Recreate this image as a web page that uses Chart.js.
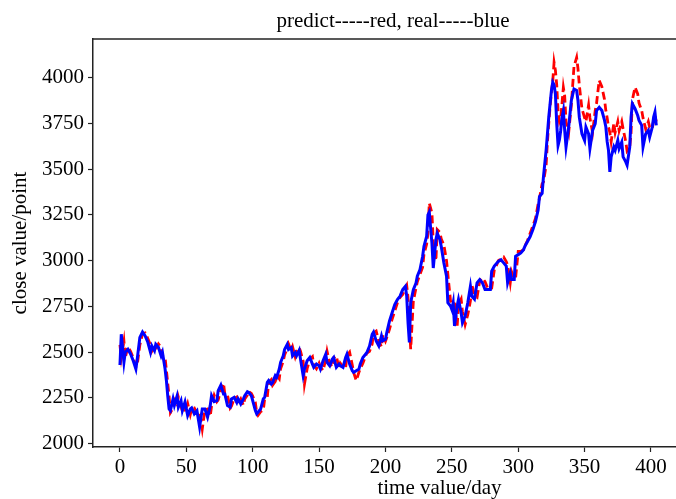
<!DOCTYPE html>
<html>
<head>
<meta charset="utf-8">
<script src="https://cdn.jsdelivr.net/npm/chart.js@4.4.1/dist/chart.umd.min.js"></script>
<style>
  html, body { margin: 0; padding: 0; background: #fff; overflow: hidden; }
  #wrap { width: 786px; height: 499px; }
</style>
</head>
<body>
<div id="wrap"><canvas id="chart" width="786" height="499"></canvas></div>
<script>
// day index of each reading
const days = [
  0, 1, 3, 4, 6, 8, 10, 12, 13, 15, 17, 19, 21, 23, 24, 26, 27, 29, 31, 32,
  34, 35, 36, 37, 38, 40, 41, 43, 44, 46, 47, 49, 51, 53, 54, 56, 58, 60, 62, 64,
  66, 68, 69, 71, 73, 74, 76, 78, 79, 81, 83, 84, 86, 88, 89, 91, 93, 94, 96, 97,
  99, 100, 102, 103, 104, 106, 108, 109, 111, 112, 114, 115, 117, 118, 120, 121, 123, 124, 126, 127,
  129, 130, 132, 133, 135, 136, 138, 139, 141, 143, 145, 146, 148, 150, 151, 153, 155, 156, 158, 160,
  161, 163, 165, 166, 168, 170, 171, 173, 175, 176, 178, 180, 181, 183, 185, 186, 188, 190, 191, 193,
  195, 197, 198, 200, 201, 203, 205, 207, 209, 211, 213, 215, 216, 217, 218, 219, 221, 223, 224, 226,
  228, 229, 231, 232, 233, 235, 236, 238, 239, 241, 242, 244, 246, 247, 249, 250, 251, 252, 254, 255,
  257, 258, 260, 262, 264, 265, 267, 269, 271, 273, 275, 277, 279, 280, 282, 284, 285, 287, 289, 291,
  292, 294, 295, 297, 298, 300, 302, 304, 305, 307, 309, 311, 313, 315, 316, 318, 319, 321, 322, 323,
  324, 325, 326, 327, 328, 329, 330, 331, 332, 333, 334, 335, 336, 338, 340, 342, 344, 345, 346, 348,
  350, 351, 353, 354, 356, 358, 359, 361, 363, 365, 366, 367, 368, 369, 370, 372, 373, 375, 376, 378,
  379, 381, 382, 384, 385, 386, 388, 390, 391, 393, 394, 396, 398, 399, 401, 402, 403, 404
];

// real close value (blue)
const real = [
  2430, 2598, 2445, 2500, 2516, 2490, 2453, 2408, 2462, 2581, 2610, 2589, 2554, 2500, 2535, 2508, 2543, 2527, 2480, 2500,
  2408, 2344, 2262, 2190, 2181, 2245, 2210, 2260, 2200, 2235, 2181, 2228, 2154, 2190, 2196, 2163, 2180, 2091, 2190, 2190,
  2145, 2208, 2262, 2230, 2235, 2290, 2320, 2272, 2272, 2208, 2200, 2245, 2253, 2225, 2245, 2217, 2245, 2262, 2284, 2280,
  2262, 2235, 2181, 2163, 2172, 2190, 2245, 2253, 2335, 2345, 2326, 2335, 2371, 2362, 2408, 2444, 2480, 2515, 2543, 2515,
  2525, 2480, 2498, 2480, 2510, 2462, 2371, 2408, 2453, 2471, 2435, 2417, 2435, 2426, 2408, 2453, 2489, 2444, 2426, 2462,
  2471, 2417, 2435, 2426, 2417, 2471, 2489, 2435, 2399, 2390, 2399, 2408, 2435, 2471, 2489, 2498, 2534, 2598, 2610, 2562,
  2534, 2589, 2562, 2570, 2607, 2670, 2715, 2760, 2788, 2806, 2842, 2860, 2806, 2661, 2553, 2770, 2842, 2878, 2915, 2951,
  3024, 3078, 3132, 3250, 3265, 3096, 2960, 3114, 3150, 3114, 3078, 2988, 2915, 2770, 2752, 2733, 2770, 2643, 2752, 2788,
  2715, 2661, 2697, 2770, 2860, 2806, 2790, 2879, 2897, 2879, 2842, 2842, 2842, 2942, 2970, 2988, 2996, 3005, 2988, 2970,
  2879, 2933, 2897, 2897, 3024, 3033, 3042, 3060, 3078, 3105, 3132, 3169, 3214, 3277, 3350, 3368, 3458, 3603, 3693, 3784,
  3857, 3929, 3975, 3960, 3911, 3748, 3630, 3660, 3711, 3784, 3820, 3712, 3621, 3730, 3875, 3938, 3930, 3875, 3784, 3693,
  3657, 3730, 3693, 3612, 3712, 3748, 3820, 3838, 3820, 3766, 3730, 3650, 3603, 3485, 3567, 3621, 3603, 3657, 3612, 3648,
  3567, 3540, 3522, 3621, 3784, 3857, 3830, 3793, 3766, 3739, 3621, 3693, 3712, 3675, 3730, 3784, 3811, 3739
];

// predicted close value (red)
const predict = [
  2540, 2470, 2560, 2470, 2530, 2505, 2470, 2420, 2430, 2540, 2600, 2605, 2575, 2540, 2505, 2530, 2515, 2545, 2525, 2480,
  2470, 2400, 2330, 2260, 2170, 2195, 2240, 2215, 2255, 2205, 2230, 2175, 2220, 2160, 2190, 2195, 2165, 2175, 2080, 2185,
  2190, 2150, 2205, 2265, 2230, 2240, 2295, 2330, 2270, 2265, 2195, 2205, 2245, 2255, 2220, 2245, 2210, 2245, 2265, 2285,
  2275, 2260, 2225, 2170, 2155, 2175, 2185, 2245, 2255, 2335, 2350, 2320, 2340, 2375, 2355, 2410, 2450, 2485, 2520, 2545,
  2510, 2530, 2475, 2500, 2525, 2505, 2450, 2326, 2410, 2460, 2475, 2430, 2410, 2440, 2420, 2400, 2460, 2505, 2440, 2420,
  2470, 2480, 2410, 2440, 2420, 2415, 2480, 2500, 2430, 2390, 2345, 2390, 2410, 2440, 2480, 2495, 2505, 2545, 2605, 2615,
  2560, 2530, 2595, 2560, 2580, 2625, 2680, 2725, 2770, 2800, 2815, 2850, 2865, 2800, 2650, 2516, 2780, 2850, 2885, 2925,
  2965, 3035, 3090, 3150, 3314, 3260, 3100, 3000, 3170, 3155, 3120, 3085, 3000, 2925, 2780, 2760, 2740, 2780, 2640, 2760,
  2790, 2720, 2650, 2705, 2780, 2870, 2810, 2800, 2890, 2905, 2885, 2850, 2845, 2850, 2950, 2980, 3000, 3010, 3020, 2995,
  2975, 2880, 2940, 2900, 2905, 3050, 3050, 3060, 3080, 3110, 3150, 3190, 3230, 3310, 3340, 3420, 3430, 3520, 3650, 3750,
  3840, 3920, 3980, 4083, 4040, 3960, 3820, 3760, 3780, 3860, 3946, 3900, 3760, 3700, 3850, 4060, 4110, 4050, 3960, 3830,
  3780, 3760, 3850, 3780, 3700, 3820, 3860, 3985, 3950, 3880, 3820, 3780, 3730, 3700, 3650, 3750, 3700, 3760, 3710, 3760,
  3720, 3650, 3600, 3620, 3700, 3880, 3947, 3911, 3860, 3820, 3780, 3720, 3760, 3730, 3720, 3770, 3790, 3760
];

const xTicks = [0, 50, 100, 150, 200, 250, 300, 350, 400];
const yTicks = [2000, 2250, 2500, 2750, 3000, 3250, 3500, 3750, 4000];

const serif = 'Liberation Serif';

// matplotlib-style top spine
const frame = {
  id: 'frame',
  afterDraw(chart) {
    const { ctx, chartArea } = chart;
    ctx.save();
    ctx.strokeStyle = '#222';
    ctx.lineWidth = 1.5;
    ctx.beginPath();
    ctx.moveTo(chartArea.left, chartArea.top);
    ctx.lineTo(chartArea.right, chartArea.top);
    ctx.stroke();
    ctx.restore();
  }
};

new Chart(document.getElementById('chart'), {
  type: 'line',
  data: {
    datasets: [
      {
        label: 'real',
        data: days.map((d, i) => ({ x: d, y: real[i] })),
        borderColor: '#0000ff',
        borderWidth: 3,
        pointRadius: 0,
        tension: 0,
      },
      {
        label: 'predict',
        data: days.map((d, i) => ({ x: d, y: predict[i] })),
        borderColor: '#ff0000',
        borderWidth: 2.8,
        borderDash: [8, 4],
        pointRadius: 0,
        tension: 0,
      },
    ],
  },
  options: {
    responsive: false,
    animation: false,
    layout: { padding: 0 },
    plugins: {
      legend: { display: false },
      tooltip: { enabled: false },
      title: {
        display: true,
        text: 'predict-----red, real-----blue',
        color: '#000',
        font: { family: serif, size: 21, weight: 'normal', lineHeight: 1 },
        padding: { top: 11, bottom: 7 },
      },
    },
    scales: {
      x: {
        type: 'linear',
        min: -20.3,
        max: 501.7,
        afterBuildTicks: (s) => { s.ticks = xTicks.map((v) => ({ value: v })); },
        afterFit: (s) => { s.height = 52; },
        grid: { drawOnChartArea: false, drawTicks: true, tickLength: 5, tickColor: '#222', tickWidth: 1.2 },
        border: { display: true, color: '#222', width: 1.5 },
        ticks: { color: '#000', padding: 3, maxRotation: 0, font: { family: serif, size: 21 }, callback: (v) => String(v) },
        title: {
          display: true,
          text: 'time value/day',
          color: '#000',
          font: { family: serif, size: 21, lineHeight: 1 },
          padding: 0,
        },
      },
      y: {
        type: 'linear',
        min: 1982,
        max: 4211,
        afterBuildTicks: (s) => { s.ticks = yTicks.map((v) => ({ value: v })); },
        afterFit: (s) => { s.width = 93; },
        grid: { drawOnChartArea: false, drawTicks: true, tickLength: 5, tickColor: '#222', tickWidth: 1.2 },
        border: { display: true, color: '#222', width: 1.5 },
        ticks: { color: '#000', padding: 4, font: { family: serif, size: 21 }, callback: (v) => String(v) },
        title: {
          display: true,
          text: 'close value/point',
          color: '#000',
          font: { family: serif, size: 21, lineHeight: 1 },
          padding: { top: 10, bottom: 0 },
        },
      },
    },
  },
  plugins: [frame],
});
</script>
</body>
</html>
